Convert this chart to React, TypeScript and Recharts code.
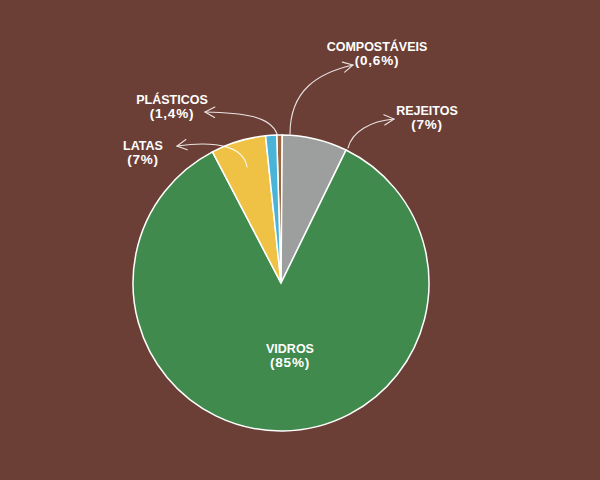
import { PieChart, Pie, Cell } from "recharts";

const categories = ["COMPOSTÁVEIS", "REJEITOS", "VIDROS", "LATAS", "PLÁSTICOS"];
const shareLabels = ["(0,6%)", "(7%)", "(85%)", "(7%)", "(1,4%)"];
// slice sizes (labels are rounded)
const shares = [0.6, 7.1, 85.1, 6.0, 1.2];
const colors = ["#9a6840", "#9c9f9d", "#3f8a4c", "#efc245", "#4ab3d8"];

const data = categories.map((name, i) => ({ name, value: shares[i], pct: shareLabels[i] }));

// label placement relative to the pie centre; arrow = cubic curve from slice to text
type Pt = [number, number];
const layout: Record<string, { text: Pt; arrow?: Pt[] }> = {
  "COMPOSTÁVEIS": { text: [96, -232], arrow: [[9, -149], [9, -193], [37, -210], [72, -218]] },
  REJEITOS: { text: [146, -168], arrow: [[67, -135], [71, -151], [89, -162], [113, -164]] },
  VIDROS: { text: [9, 70] },
  LATAS: { text: [-138, -133], arrow: [[-34, -116], [-37, -135], [-61, -143], [-104, -137]] },
  "PLÁSTICOS": { text: [-109, -179], arrow: [[-4, -149], [-11, -168], [-41, -170], [-76, -171]] },
};

const BG = "#6c3f36";

function renderLabel(props: any) {
  const { cx, cy, name, payload } = props;
  const cfg = layout[name];
  if (!cfg) return null;
  const tx = cx + cfg.text[0];
  const ty = cy + cfg.text[1];
  let arrow = null;
  if (cfg.arrow) {
    const p = cfg.arrow.map(([x, y]) => [cx + x, cy + y]);
    const d = `M${p[0][0]},${p[0][1]} C${p[1][0]},${p[1][1]} ${p[2][0]},${p[2][1]} ${p[3][0]},${p[3][1]}`;
    const ang = Math.atan2(p[3][1] - p[2][1], p[3][0] - p[2][0]);
    const len = 11;
    const spread = (28 * Math.PI) / 180;
    const w1 = [p[3][0] - len * Math.cos(ang - spread), p[3][1] - len * Math.sin(ang - spread)];
    const w2 = [p[3][0] - len * Math.cos(ang + spread), p[3][1] - len * Math.sin(ang + spread)];
    arrow = (
      <g stroke="#ffffff" strokeWidth={1.1} fill="none" opacity={0.85} strokeLinecap="round">
        <path d={d} />
        <path d={`M${w1[0]},${w1[1]} L${p[3][0]},${p[3][1]} L${w2[0]},${w2[1]}`} />
      </g>
    );
  }
  return (
    <g>
      {arrow}
      <text
        x={tx}
        y={ty}
        textAnchor="middle"
        fill="#ffffff"
        fontFamily="Liberation Sans, Arial, sans-serif"
        fontWeight="bold"
        fontSize={12.5}
      >
        <tspan x={tx} y={ty}>{name}</tspan>
        <tspan x={tx} y={ty + 14} fontSize={13.5} letterSpacing={0.8}>
          {payload?.pct ?? ""}
        </tspan>
      </text>
    </g>
  );
}

export default function App() {
  return (
    <div style={{ position: "absolute", left: 0, top: 0, width: 600, height: 480, background: BG }}>
      <PieChart width={600} height={480} margin={{ top: 0, right: 0, bottom: 0, left: 0 }}>
        <Pie
          data={data}
          dataKey="value"
          nameKey="name"
          cx={281}
          cy={283}
          outerRadius={148}
          startAngle={91.66}
          endAngle={-268.34}
          stroke="#ffffff"
          strokeWidth={1.5}
          label={renderLabel}
          labelLine={false}
          isAnimationActive={false}
        >
          {data.map((d, i) => (
            <Cell key={d.name} fill={colors[i]} />
          ))}
        </Pie>
      </PieChart>
    </div>
  );
}
